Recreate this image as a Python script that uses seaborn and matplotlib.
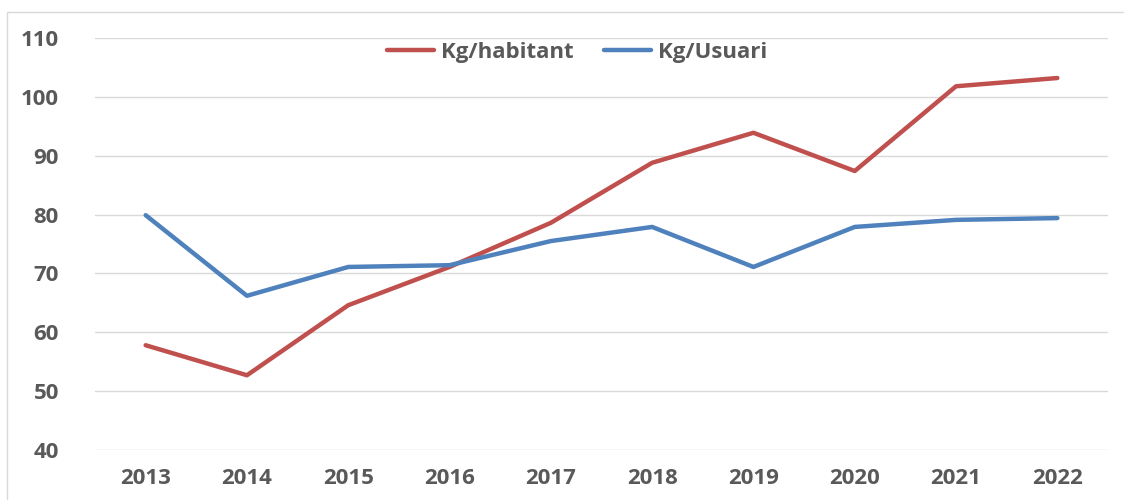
import pandas as pd
import matplotlib.pyplot as plt
import seaborn as sns
from matplotlib.patches import Rectangle

years = ["2013", "2014", "2015", "2016", "2017", "2018", "2019", "2020", "2021", "2022"]
kg_habitant = [57.8, 52.7, 64.6, 71.1, 78.6, 88.8, 93.9, 87.4, 101.8, 103.2]
kg_usuari = [79.9, 66.2, 71.1, 71.4, 75.5, 77.9, 71.1, 77.9, 79.1, 79.4]

df = pd.concat([
    pd.DataFrame({"year": years, "value": kg_habitant, "serie": "Kg/habitant"}),
    pd.DataFrame({"year": years, "value": kg_usuari, "serie": "Kg/Usuari"}),
])

sns.set_style("white")
plt.rcParams["font.family"] = ["Open Sans", "DejaVu Sans"]
text_col = "#595959"
grid_col = "#D9D9D9"

fig = plt.figure(figsize=(11.24, 5), dpi=100)
ax = fig.add_axes([95 / 1124, 0.1, (1108 - 95) / 1124, 0.824])

sns.lineplot(data=df, x="year", y="value", hue="serie",
             palette={"Kg/habitant": "#C0504D", "Kg/Usuari": "#4F81BD"},
             linewidth=3.2, ax=ax, sort=False)

ax.set_xlim(-0.5, len(years) - 0.5)
ax.set_ylim(40, 110)
ax.set_yticks(range(40, 111, 10))
ax.yaxis.grid(True, color=grid_col, linewidth=1)
ax.set_axisbelow(True)
for s in ax.spines.values():
    s.set_visible(False)
ax.set_xlabel("")
ax.set_ylabel("")
ax.tick_params(axis="both", length=0, labelsize=16, labelcolor=text_col)
ax.tick_params(axis="x", pad=13)
ax.tick_params(axis="y", pad=26)
for lab in ax.get_xticklabels() + ax.get_yticklabels():
    lab.set_fontweight("bold")

leg = ax.legend(loc="upper center", bbox_to_anchor=(0.476, 1.04), ncol=2, frameon=False,
                handlelength=2.1, columnspacing=1.4, handletextpad=0.3,
                prop={"weight": "bold", "size": 16})
for t in leg.get_texts():
    t.set_color(text_col)

fig.patches.append(Rectangle((7 / 1124, -0.1), 1.2, 1 - 12 / 500 + 0.1,
                             transform=fig.transFigure, fill=False,
                             edgecolor=grid_col, linewidth=1))

fig.savefig("out.png", dpi=100)
